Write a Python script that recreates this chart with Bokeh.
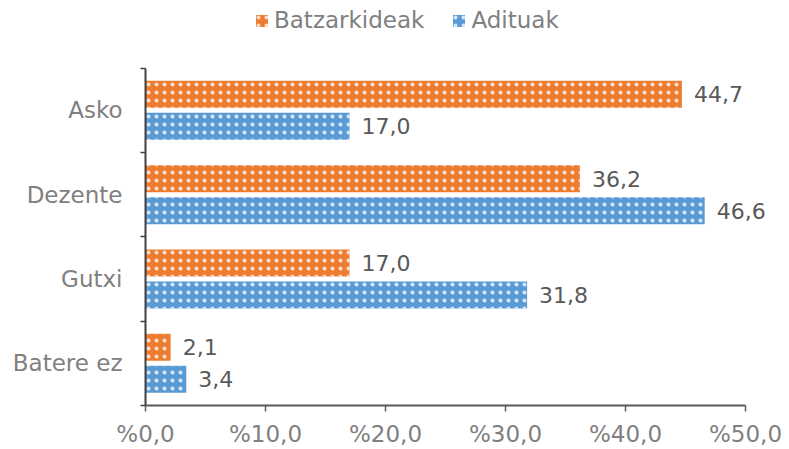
from bokeh.plotting import figure
from bokeh.models import ColumnDataSource, FixedTicker, Legend, LegendItem, Range1d
from bokeh.core.properties import value
from bokeh.embed import file_html
from bokeh.resources import INLINE

categories = ["Asko", "Dezente", "Gutxi", "Batere ez"]
batzarkideak = [44.7, 36.2, 17.0, 2.1]
adituak = [17.0, 46.6, 31.8, 3.4]
x_ticks = [0, 10, 20, 30, 40, 50]
x_tick_labels = ["%0,0", "%10,0", "%20,0", "%30,0", "%40,0", "%50,0"]
series_names = ["Batzarkideak", "Adituak"]

n = len(categories)
centers = [n - 0.5 - i for i in range(n)]
off = 0.19
h = 0.32

def fmt(v):
    return f"{v:.1f}".replace(".", ",")

src_b = ColumnDataSource(dict(y=[c + off for c in centers], v=batzarkideak,
                              lab=[fmt(v) for v in batzarkideak]))
src_a = ColumnDataSource(dict(y=[c - off for c in centers], v=adituak,
                              lab=[fmt(v) for v in adituak]))

W, H = 789, 449
LEFT, BOTTOM = 145, 42
XMAX, YMAX = 50, n
px_per_x = 600 / XMAX
px_per_y = 339 / YMAX
frame_w = W - LEFT
frame_h = H - BOTTOM

FONT = "DejaVu Sans"
p = figure(width=W, height=H, output_backend="svg", toolbar_location=None,
           x_range=Range1d(0, frame_w / px_per_x), y_range=Range1d(0, frame_h / px_per_y),
           min_border_left=LEFT, min_border_right=0, min_border_top=0, min_border_bottom=BOTTOM)
p.outline_line_color = None
p.grid.visible = False

orange = "#ED7D31"
blue = "#5B9BD5"
hatch = dict(hatch_pattern="dot", hatch_color="white", hatch_scale=8, hatch_weight=1, hatch_alpha=0.75)
rb = p.hbar(y="y", right="v", left=0, height=h, source=src_b, fill_color=orange, line_color=None, **hatch)
ra = p.hbar(y="y", right="v", left=0, height=h, source=src_a, fill_color=blue, line_color=None, **hatch)

for s in (src_b, src_a):
    p.text(x="v", y="y", text="lab", source=s, x_offset=12, text_baseline="middle",
           text_align="left", text_font=value(FONT), text_font_size="22px", text_color="#595959")

xa = p.xaxis[0]
xa.bounds = (0, XMAX)
xa.ticker = FixedTicker(ticks=x_ticks)
xa.major_label_overrides = {t: l for t, l in zip(x_ticks, x_tick_labels)}
xa.major_label_text_font = FONT
xa.major_label_text_font_size = "23px"
xa.major_label_text_color = "#808080"
xa.axis_line_color = "#595959"
xa.axis_line_width = 2
xa.major_tick_line_color = "#595959"
xa.major_tick_line_width = 1.5
xa.major_tick_in = 0
xa.major_tick_out = 6
xa.minor_tick_line_color = None
xa.major_label_standoff = 9

ya = p.yaxis[0]
ya.bounds = (0, YMAX)
ya.ticker = FixedTicker(ticks=centers, minor_ticks=list(range(n + 1)))
ya.major_label_overrides = {c: cat for c, cat in zip(centers, categories)}
ya.major_label_text_font = FONT
ya.major_label_text_font_size = "23px"
ya.major_label_text_color = "#808080"
ya.axis_line_color = "#404040"
ya.axis_line_width = 2
ya.major_tick_line_color = None
ya.major_tick_in = 0
ya.major_tick_out = 5
ya.minor_tick_line_color = "#404040"
ya.minor_tick_line_width = 1.5
ya.minor_tick_in = 0
ya.minor_tick_out = 5
ya.major_label_standoff = 18

legend = Legend(items=[LegendItem(label=series_names[0], renderers=[rb]),
                       LegendItem(label=series_names[1], renderers=[ra])],
                orientation="horizontal", location=(109, 371),
                label_text_font=FONT, label_text_font_size="23px", label_text_color="#808080",
                glyph_width=15, glyph_height=15, label_height=28, spacing=27, label_standoff=5,
                border_line_color=None, background_fill_alpha=0, margin=0, padding=0)
p.add_layout(legend, "center")

open("out.html", "w").write(file_html(p, INLINE))
